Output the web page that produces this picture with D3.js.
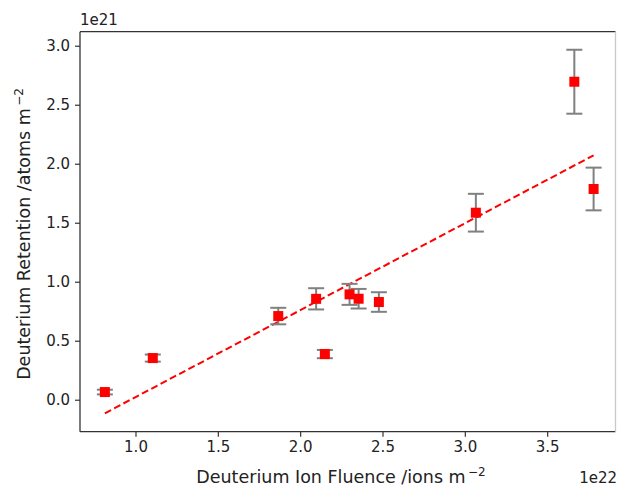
<!DOCTYPE html>
<html>
<head>
<meta charset="utf-8">
<script src="https://cdn.jsdelivr.net/npm/d3@7"></script>
<style>
  body { margin: 0; background: #fff; }
  svg { display: block; font-family: "DejaVu Sans", sans-serif; }
</style>
</head>
<body>
<svg id="chart" width="619" height="491"></svg>
<script>
// data (fluence in 1e22 ions m^-2, retention in 1e21 atoms m^-2)
const fluence   = [0.814, 1.105, 1.867, 2.097, 2.15, 2.30, 2.355, 2.478, 3.067, 3.665, 3.782];
const retention = [0.065, 0.353, 0.709, 0.855, 0.387, 0.893, 0.856, 0.828, 1.585, 2.695, 1.786];
const retErr    = [0.02, 0.03, 0.07, 0.09, 0.035, 0.089, 0.083, 0.083, 0.16, 0.271, 0.181];
const fitX      = [0.814, 3.782];
const fitY      = [-0.115, 2.071];
const xTicks    = [1.0, 1.5, 2.0, 2.5, 3.0, 3.5];
const yTicks    = [0.0, 0.5, 1.0, 1.5, 2.0, 2.5, 3.0];

const svg = d3.select("#chart");
const margin = { top: 31.7, right: 3.5, bottom: 59.3, left: 80 };
const W = 619, H = 491;
const width  = W - margin.left - margin.right;
const height = H - margin.top - margin.bottom;

const x = d3.scaleLinear().domain([0.663, 3.915]).range([0, width]);
const y = d3.scaleLinear().domain([-0.271, 3.119]).range([height, 0]);

const g = svg.append("g")
  .attr("transform", `translate(${margin.left},${margin.top})`);

// fit line
g.append("line")
  .attr("x1", x(fitX[0])).attr("y1", y(fitY[0]))
  .attr("x2", x(fitX[1])).attr("y2", y(fitY[1]))
  .attr("stroke", "#ff0000")
  .attr("stroke-width", 2)
  .attr("stroke-dasharray", "7,3.5");

// error bars
const pts = fluence.map((f, i) => ({ x: f, y: retention[i], e: retErr[i] }));
const eb = g.append("g").selectAll("g").data(pts).join("g")
  .attr("stroke", "#808080").attr("stroke-width", 2);
eb.append("line")
  .attr("x1", d => x(d.x)).attr("x2", d => x(d.x))
  .attr("y1", d => y(d.y - d.e)).attr("y2", d => y(d.y + d.e));
[-1, 1].forEach(s => {
  eb.append("line")
    .attr("x1", d => x(d.x) - 8).attr("x2", d => x(d.x) + 8)
    .attr("y1", d => y(d.y + s * d.e)).attr("y2", d => y(d.y + s * d.e));
});

// markers
g.append("g").selectAll("rect").data(pts).join("rect")
  .attr("x", d => x(d.x) - 5)
  .attr("y", d => y(d.y) - 5)
  .attr("width", 10).attr("height", 10)
  .attr("fill", "#ff0000");

// axes
const xAxis = g.append("g")
  .attr("transform", `translate(0,${height})`)
  .call(d3.axisBottom(x).tickValues(xTicks).tickFormat(d3.format(".1f")).tickSize(5).tickPadding(5));
const yAxis = g.append("g")
  .call(d3.axisLeft(y).tickValues(yTicks).tickFormat(d3.format(".1f")).tickSize(5).tickPadding(5));
[xAxis, yAxis].forEach(a => {
  a.select(".domain").remove();
  a.selectAll("line").attr("stroke", "#333").attr("stroke-width", 1.2);
  a.selectAll("text").attr("font-size", 15).attr("fill", "#222")
    .attr("font-family", "DejaVu Sans");
});

// spines
g.append("line").attr("x1", 0).attr("x2", 0).attr("y1", 0).attr("y2", height)
  .attr("stroke", "#333").attr("stroke-width", 1.3);
g.append("line").attr("x1", 0).attr("x2", width).attr("y1", height).attr("y2", height)
  .attr("stroke", "#333").attr("stroke-width", 1.3);
g.append("line").attr("x1", 0).attr("x2", width).attr("y1", 0).attr("y2", 0)
  .attr("stroke", "#333").attr("stroke-width", 1.3);
g.append("line").attr("x1", width).attr("x2", width).attr("y1", 0).attr("y2", height)
  .attr("stroke", "#c8c8c8").attr("stroke-width", 1.3);

// offset labels
svg.append("text").attr("x", 80).attr("y", 25)
  .attr("font-size", 15).attr("fill", "#222").text("1e21");
svg.append("text").attr("x", 617).attr("y", 483)
  .attr("text-anchor", "end")
  .attr("font-size", 15).attr("fill", "#222").text("1e22");

// axis labels
const xl = svg.append("text")
  .attr("x", 341).attr("y", 483)
  .attr("text-anchor", "middle")
  .attr("font-size", 17.5).attr("fill", "#222");
xl.append("tspan").text("Deuterium Ion Fluence /ions m");
xl.append("tspan").attr("dy", -7).attr("font-size", 12).text("\u2009\u22122");

const yl = svg.append("text")
  .attr("transform", "translate(30,234) rotate(-90)")
  .attr("text-anchor", "middle")
  .attr("font-size", 17.5).attr("fill", "#222");
yl.append("tspan").text("Deuterium Retention /atoms m");
yl.append("tspan").attr("dy", -7).attr("font-size", 12).text("\u2009\u22122");
</script>
</body>
</html>
